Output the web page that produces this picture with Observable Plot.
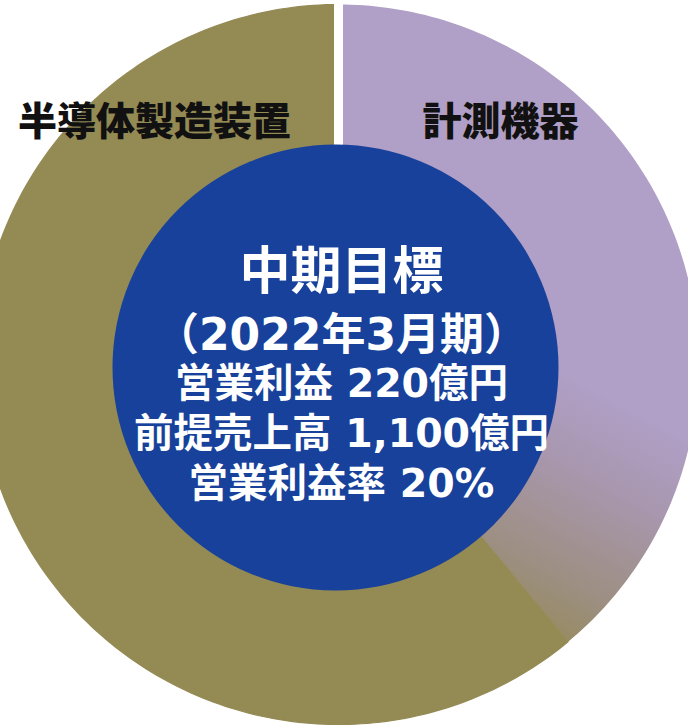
<!DOCTYPE html>
<html>
<head>
<meta charset="utf-8">
<script src="https://cdn.jsdelivr.net/npm/d3@7"></script>
<script src="https://cdn.jsdelivr.net/npm/@observablehq/plot@0.6"></script>
<style>
  html, body { margin: 0; padding: 0; background: #ffffff; }
  #chart svg { display: block; }
</style>
</head>
<body>
<div id="chart"></div>
<script>
// ---- data ----
const categories = ["計測機器", "半導体製造装置"];
const shares = [39, 61];
const centerLines = ["中期目標", "（2022年3月期）", "営業利益 220億円", "前提売上高 1,100億円", "営業利益率 20%"];

// ---- layout (pixels) ----
const W = 688, H = 728;
const cx = 338, cy = 364, R = 360, rIn = 210;
const hub = {x: 335, y: 367, r: 223};

// build slice polygons from the shares
const total = d3.sum(shares);
let acc = 0;
const slices = categories.map((cat, i) => {
  const a0 = acc / total * 2 * Math.PI;
  acc += shares[i];
  const a1 = acc / total * 2 * Math.PI;
  const pts = [];
  const n = Math.max(8, Math.ceil((a1 - a0) / (Math.PI / 180)));
  for (let k = 0; k <= n; k++) {
    const a = a0 + (a1 - a0) * k / n;
    pts.push({cat, x: cx + R * Math.sin(a), y: cy - R * Math.cos(a)});
  }
  for (let k = n; k >= 0; k--) {
    const a = a0 + (a1 - a0) * k / n;
    pts.push({cat, x: cx + rIn * Math.sin(a), y: cy - rIn * Math.cos(a)});
  }
  return pts;
});

const defs = () => {
  const d = d3.create("svg:defs");
  const g = d.append("linearGradient")
    .attr("id", "purpleGrad")
    .attr("gradientUnits", "userSpaceOnUse")
    .attr("x1", 650).attr("y1", 420)
    .attr("x2", 530).attr("y2", 650);
  g.append("stop").attr("offset", "0%").attr("stop-color", "#B09FC6");
  g.append("stop").attr("offset", "30%").attr("stop-color", "#A897AE");
  g.append("stop").attr("offset", "70%").attr("stop-color", "#9D8F82");
  g.append("stop").attr("offset", "100%").attr("stop-color", "#948A56");
  return d.node();
};

const labelRows = [
  {text: categories[1], x: 154, y: 122},
  {text: categories[0], x: 500, y: 122}
];
const lineY = [272, 335, 384, 434, 484];
const lineSize = [51, 44, 39.5, 39.5, 39.5];
const centerRows = centerLines.map((t, i) => ({text: t, x: 341, y: lineY[i], size: lineSize[i]}));

const font = "'DejaVu Sans', 'Noto Sans CJK JP', sans-serif";

const chart = Plot.plot({
  width: W,
  height: H,
  margin: 0,
  x: {domain: [0, W], range: [0, W], axis: null},
  y: {domain: [0, H], range: [0, H], axis: null},
  marks: [
    defs,
    Plot.line(slices[0], {x: "x", y: "y", fill: "url(#purpleGrad)", stroke: "none", curve: "linear-closed"}),
    Plot.line(slices[1], {x: "x", y: "y", fill: "#948A54", stroke: "#948A54", strokeWidth: 1.2, curve: "linear-closed"}),
    Plot.ruleX([cx], {y1: cy - R - 4, y2: cy - rIn + 10, stroke: "white", strokeWidth: 9}),
    Plot.dot([hub], {x: "x", y: "y", r: hub.r, fill: "#17419A", stroke: "none"}),
    Plot.text(labelRows, {x: "x", y: "y", text: "text", fontSize: 39, fontWeight: 900, fill: "#111111", fontFamily: "'Noto Sans CJK JP', sans-serif"}),
    Plot.text(centerRows, {x: "x", y: "y", text: "text", fontSize: "size", fontWeight: "bold", fill: "white", fontFamily: font})
  ]
});
document.getElementById("chart").appendChild(chart);
</script>
</body>
</html>
